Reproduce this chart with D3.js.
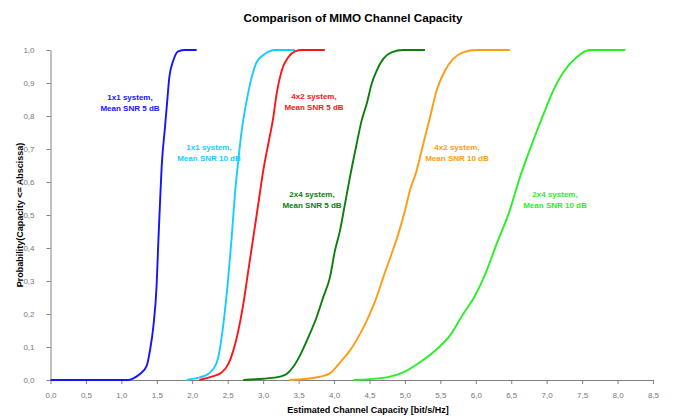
<!DOCTYPE html>
<html>
<head>
<meta charset="utf-8">
<script src="https://cdn.jsdelivr.net/npm/d3@7"></script>
<style>
  html, body { margin: 0; padding: 0; background: #fff; }
  svg { display: block; font-family: "Liberation Sans", Arial, sans-serif; }
</style>
</head>
<body>
<svg id="chart" width="683" height="418"></svg>
<script>
// Empirical CDFs of channel capacity (bit/s/Hz) for each antenna set-up
const cap1x1_5dB  = [0, 1.10, 1.168, 1.262, 1.357, 1.403, 1.45, 1.498, 1.52, 1.544, 1.568, 1.615, 1.647, 1.676, 1.732, 1.803, 1.897, 2.062];
const cdf1x1_5dB  = [0, 0, 0.005, 0.018, 0.043, 0.089, 0.16, 0.291, 0.412, 0.533, 0.645, 0.766, 0.846, 0.917, 0.968, 0.996, 1.0, 1.0];

const cap1x1_10dB = [1.92, 2.038, 2.179, 2.296, 2.367, 2.414, 2.461, 2.508, 2.556, 2.602, 2.649, 2.697, 2.767, 2.838, 2.908, 3.025, 3.166, 3.448];
const cdf1x1_10dB = [0, 0.005, 0.013, 0.033, 0.069, 0.129, 0.21, 0.311, 0.432, 0.564, 0.665, 0.755, 0.846, 0.917, 0.963, 0.988, 1.0, 1.0];

const cap4x2_5dB  = [2.10, 2.273, 2.414, 2.508, 2.579, 2.649, 2.72, 2.79, 2.861, 2.931, 3.001, 3.072, 3.143, 3.19, 3.261, 3.354, 3.449, 3.55, 3.87];
const cdf4x2_5dB  = [0, 0.01, 0.023, 0.048, 0.089, 0.149, 0.23, 0.331, 0.432, 0.533, 0.634, 0.715, 0.796, 0.867, 0.937, 0.978, 0.996, 1.0, 1.0];

const cap2x4_5dB  = [2.72, 3.0, 3.237, 3.331, 3.425, 3.519, 3.637, 3.754, 3.848, 3.942, 4.013, 4.083, 4.154, 4.224, 4.319, 4.389, 4.46, 4.53, 4.601, 4.694, 4.812, 4.976, 5.282];
const cdf2x4_5dB  = [0, 0.004, 0.01, 0.018, 0.04, 0.074, 0.129, 0.19, 0.251, 0.311, 0.392, 0.452, 0.533, 0.614, 0.715, 0.786, 0.836, 0.897, 0.937, 0.973, 0.993, 1.0, 1.0];

const cap4x2_10dB = [3.37, 3.801, 3.942, 4.107, 4.224, 4.365, 4.483, 4.601, 4.694, 4.812, 4.906, 5.0, 5.07, 5.165, 5.235, 5.306, 5.353, 5.447, 5.564, 5.681, 5.822, 6.011, 6.481];
const cdf4x2_10dB = [0, 0.01, 0.02, 0.059, 0.089, 0.139, 0.19, 0.251, 0.311, 0.382, 0.442, 0.513, 0.574, 0.634, 0.695, 0.755, 0.795, 0.877, 0.937, 0.973, 0.993, 1.0, 1.0];

const cap2x4_10dB = [4.27, 4.742, 4.976, 5.212, 5.4, 5.65, 5.822, 5.975, 6.152, 6.293, 6.47, 6.622, 6.81, 6.975, 7.092, 7.233, 7.422, 7.609, 8.11];
const cdf2x4_10dB = [0, 0.008, 0.023, 0.054, 0.084, 0.139, 0.2, 0.25, 0.331, 0.412, 0.508, 0.614, 0.725, 0.816, 0.877, 0.932, 0.978, 1.0, 1.0];

const seriesNames  = ["1x1 system,|Mean SNR 5 dB", "1x1 system,|Mean SNR 10 dB", "4x2 system,|Mean SNR 5 dB",
                      "2x4 system,|Mean SNR 5 dB", "4x2 system,|Mean SNR 10 dB", "2x4 system,|Mean SNR 10 dB"];
const seriesCaps   = [cap1x1_5dB, cap1x1_10dB, cap4x2_5dB, cap2x4_5dB, cap4x2_10dB, cap2x4_10dB];
const seriesCdfs   = [cdf1x1_5dB, cdf1x1_10dB, cdf4x2_5dB, cdf2x4_5dB, cdf4x2_10dB, cdf2x4_10dB];

const xTicks = d3.range(0, 8.51, 0.5);
const yTicks = d3.range(0, 1.001, 0.1);

// Presentation
const colors = ["#1414ff", "#19ccff", "#ff1414", "#0a7f0a", "#ff9c14", "#28f028"];
const labelPos = [[130, 100], [209, 150], [314, 99], [312, 197], [457, 150], [555, 197]];

const svg = d3.select("#chart");
const x = d3.scaleLinear().domain([0, 8.5]).range([50.5, 653]);
const y = d3.scaleLinear().domain([0, 1]).range([380, 50]);
const fmt = v => d3.format(".1f")(v).replace(".", ",");

// Axes
const axisColor = "#808080";
const gx = svg.append("g").attr("transform", `translate(0,${y(0)})`)
  .call(d3.axisBottom(x).tickValues(xTicks).tickFormat(fmt).tickSize(4).tickPadding(8).tickSizeOuter(0));
const gy = svg.append("g").attr("transform", `translate(${x(0)},0)`)
  .call(d3.axisLeft(y).tickValues(yTicks).tickFormat(fmt).tickSize(4).tickPadding(12).tickSizeOuter(0));
[gx, gy].forEach(g => {
  g.select(".domain").attr("stroke", axisColor);
  g.selectAll(".tick line").attr("stroke", axisColor);
  g.selectAll(".tick text").attr("fill", "#777").style("font-size", "8px")
    .style("font-family", "'Liberation Sans', Arial, sans-serif");
});

// CDF curves
const line = d3.line().x(d => x(d[0])).y(d => y(d[1])).curve(d3.curveMonotoneX);
seriesCaps.forEach((caps, i) => {
  const pts = caps.map((c, j) => [c, seriesCdfs[i][j]]);
  svg.append("path").datum(pts)
    .attr("d", line)
    .attr("fill", "none")
    .attr("stroke", colors[i])
    .attr("stroke-width", 1.9)
    .attr("stroke-linejoin", "round");
});

// Curve annotations
seriesNames.forEach((name, i) => {
  const t = svg.append("text")
    .attr("x", labelPos[i][0]).attr("y", labelPos[i][1])
    .attr("text-anchor", "middle")
    .attr("fill", colors[i])
    .style("font-size", "8px").style("font-weight", "bold");
  name.split("|").forEach((part, k) => {
    t.append("tspan").attr("x", labelPos[i][0]).attr("dy", k === 0 ? 0 : 10.5).text(part);
  });
});

// Titles
svg.append("text").attr("x", 353).attr("y", 22).attr("text-anchor", "middle")
  .style("font-size", "11.7px").style("font-weight", "bold").attr("fill", "#000")
  .text("Comparison of MIMO Channel Capacity");
svg.append("text").attr("x", 368).attr("y", 413).attr("text-anchor", "middle")
  .style("font-size", "9px").style("font-weight", "bold").attr("fill", "#000")
  .text("Estimated Channel Capacity [bit/s/Hz]");
svg.append("text").attr("transform", "translate(23,215) rotate(-90)").attr("text-anchor", "middle")
  .style("font-size", "9px").style("font-weight", "bold").attr("fill", "#000")
  .text("Probability(Capacity <= Abscissa)");
</script>
</body>
</html>
